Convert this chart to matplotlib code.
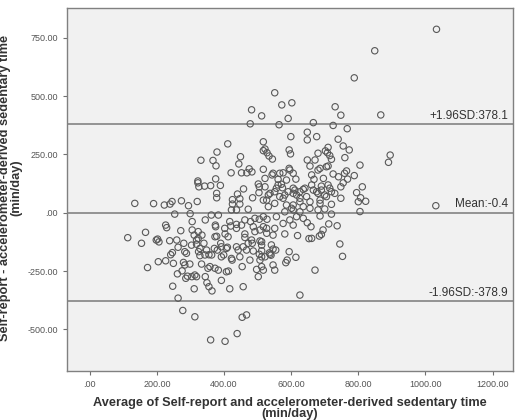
import matplotlib
matplotlib.use("Agg")
import matplotlib.pyplot as plt

plt.rcParams['font.family'] = ['Liberation Sans', 'DejaVu Sans']

# Average of the two methods (min/day)
avg_pos = [1033, 849, 788, 551, 572, 602, 731, 748, 867, 512, 564, 591, 666, 725, 767, 895, 890, 1031,
           482, 478, 411, 379, 331, 367, 376, 449, 444, 421, 452, 468, 475, 483, 322, 322, 325, 342, 360,
           389, 375, 378, 378, 458, 440, 502, 485, 425, 447, 425, 447, 134, 190, 222, 239, 245, 273, 294,
           320, 517, 517, 517, 504, 472, 740, 755, 773, 760, 710, 708, 720, 710, 805, 765, 759, 788, 725,
           741, 768, 812, 795, 748, 715, 807, 822, 800, 748, 730, 720, 705, 648, 648, 676, 599, 522, 528,
           534, 544, 594, 598, 680, 648, 671, 656, 686, 705, 522, 543, 561, 576, 594, 606, 614, 661, 668,
           680, 696, 505, 532, 517, 551, 561, 574, 581, 606, 616, 636, 646, 661, 676, 690, 700, 551, 586,
           606, 636, 656, 686, 532, 576, 626, 601, 422, 437, 581, 606, 626, 656, 680, 700, 805,
           715, 702, 546, 566, 596, 586, 571, 611, 591, 606, 626, 641, 666, 680, 690, 686, 626, 566, 556,
           537, 522, 527, 710, 720, 755]
diff_pos = [786, 694, 578, 514, 462, 471, 454, 418, 419, 415, 377, 404, 386, 374, 360, 247, 216, 30,
            441, 381, 295, 260, 225, 224, 201, 240, 209, 171, 171, 171, 188, 175, 136, 128, 111, 114, 116,
            117, 145, 83, 64, 102, 80, 123, 64, 56, 60, 37, 37, 40, 39, 33, 37, 48, 51, 30,
            48, 304, 266, 186, 86, 15, 315, 286, 269, 236, 280, 257, 229, 200, 204, 179, 169, 159, 166,
            154, 144, 111, 86, 111, 105, 64, 49, 47, 62, 83, 36, 69, 345, 312, 326, 326, 273, 257,
            243, 230, 269, 252, 255, 226, 226, 200, 190, 197, 147, 162, 143, 171, 190, 169, 144, 162, 143,
            183, 147, 111, 76, 54, 90, 119, 107, 76, 105, 76, 100, 69, 119, 90, 114, 76, 40, 33,
            33, 26, 47, 40, 26, 62, 62, 19, 12, 12, 4, 12, 4, 19, 12, 16, 5,
            245, 265, 169, 169, 183, 140, 122, 97, 90, 83, 90, 105, 97, 83, 97, 54, 47, 69, 105,
            83, 111, 54, 119, 90, 128]

avg_neg = [113, 154, 166, 172, 198, 202, 206, 204, 226, 229, 226, 238, 246, 241, 247, 249, 253, 259, 263,
           263, 261, 271, 275, 277, 279, 280, 283, 286, 298, 299, 304, 305, 305, 311, 311, 313, 313, 318,
           318, 324, 328, 333, 334, 340, 344, 344, 349, 352, 355, 355, 360, 362, 364, 373, 374, 378, 380,
           383, 383, 390, 392, 399, 403, 403, 410, 413, 417, 420, 424, 439, 437, 442, 454, 454, 457, 467,
           462, 472, 477, 479, 484, 487, 492, 497, 502, 505, 505, 283, 288, 303, 291, 492, 417, 462, 323,
           375, 402, 437, 452, 487, 507, 373, 323, 412, 462, 482, 507, 348, 328, 371, 392, 407, 437, 457,
           467, 343, 363, 392, 422, 447, 507, 358, 407, 318, 517, 522, 537, 541, 546, 551, 554, 584, 588,
           594, 614, 626, 581, 619, 653, 661, 671, 684, 690, 695, 712, 737, 745, 753, 659, 616, 648, 556,
           576, 512, 512, 517, 527, 546, 528, 596, 606, 636, 686, 720, 517, 527, 551, 512, 546, 512, 512,
           535, 540]
diff_neg = [-107, -131, -84, -235, -117, -113, -125, -210, -53, -64, -206, -120, -171, -180, -315, -217, -6, -117, -366,
            -148, -262, -77, -249, -419, -213, -131, -167, -281, -220, -4, -274, -38, -74, -326, -96, -446, -267, -135,
            -117, -167, -184, -220, -96, -131, -31, -274, -300, -238, -317, -180, -545, -10, -335, -238, -53, -101, -160,
            -246, -10, -131, -290, -181, -551, -91, -148, -250, -326, -57, -203, -518, -50, -160, -231, -448, -317, -438,
            -91, -131, -203, -38, -131, -164, -81, -243, -274, -178, -28, -224, -174, -139, -272, -24, -38, -31, -81,
            -60, -67, -67, -53, -60, -74, -103, -110, -103, -106, -117, -121, -160, -153, -153, -146, -153, -146, -146,
            -160, -181, -181, -189, -196, -189, -203, -231, -253, -274, -246, -189, -178, -138, -224, -246, -160, -214, -203,
            -167, -191, -353, -91, -98, -111, -110, -246, -100, -93, -74, -48, -56, -134, -187, -60, -17, -43, -17,
            -46, -124, -163, -60, -88, -96, -28, -31, -53, -24, -14, -6, -17, -67, -67, -139, -156, -189, -231,
            -172, -182]

avg = avg_pos + avg_neg
diff = diff_pos + diff_neg

mean_diff = -0.4
upper_loa = 378.1
lower_loa = -378.9

xticks = [0, 200, 400, 600, 800, 1000, 1200]
xticklabels = ['.00', '200.00', '400.00', '600.00', '800.00', '1000.00', '1200.00']
yticks = [-500, -250, 0, 250, 500, 750]
yticklabels = ['-500.00', '-250.00', '.00', '250.00', '500.00', '750.00']

W, H = 521, 420
fig = plt.figure(figsize=(W / 100, H / 100), dpi=100)
fig.patch.set_facecolor('white')
ax = fig.add_axes([67 / W, 1 - 370.7 / H, (513 - 67) / W, (370.7 - 8.3) / H])
ax.set_facecolor('#f1f1f1')

ax.set_xlim(-68, 1261)
ax.set_ylim(-677, 876)

line_col = '#8c8c8c'
for yv in (upper_loa, mean_diff, lower_loa):
    ax.axhline(yv, color=line_col, lw=1.3, zorder=1)

ax.scatter(avg, diff, s=21, facecolors='none', edgecolors='#585858', linewidths=0.8, zorder=2)

txt_kw = dict(ha='right', va='bottom', fontsize=8.5, color='#333333')
ax.text(1246, upper_loa + 10, '+1.96SD:378.1', **txt_kw)
ax.text(1246, mean_diff + 10, 'Mean:-0.4', **txt_kw)
ax.text(1246, lower_loa + 10, '-1.96SD:-378.9', **txt_kw)

ax.set_xticks(xticks)
ax.set_xticklabels(xticklabels)
ax.set_yticks(yticks)
ax.set_yticklabels(yticklabels)
ax.tick_params(axis='both', labelsize=6.5, labelcolor='#555555', color='#707070', length=3, width=0.8)

for sp in ax.spines.values():
    sp.set_color('#808080')
    sp.set_linewidth(1.0)

fig.text(290 / W, 1 - 408.5 / H,
         'Average of Self-report and accelerometer-derived sedentary time\n(min/day)',
         ha='center', va='center', fontsize=9.2, fontweight='bold', color='#333333',
         linespacing=0.95, multialignment='center')
fig.text(11 / W, 1 - 188 / H,
         'Self-report - accelerometer-derived sedentary time\n(min/day)',
         ha='center', va='center', rotation=90, fontsize=9.2, fontweight='bold', color='#333333',
         linespacing=0.95, multialignment='center')

fig.savefig('out.png', dpi=100)
